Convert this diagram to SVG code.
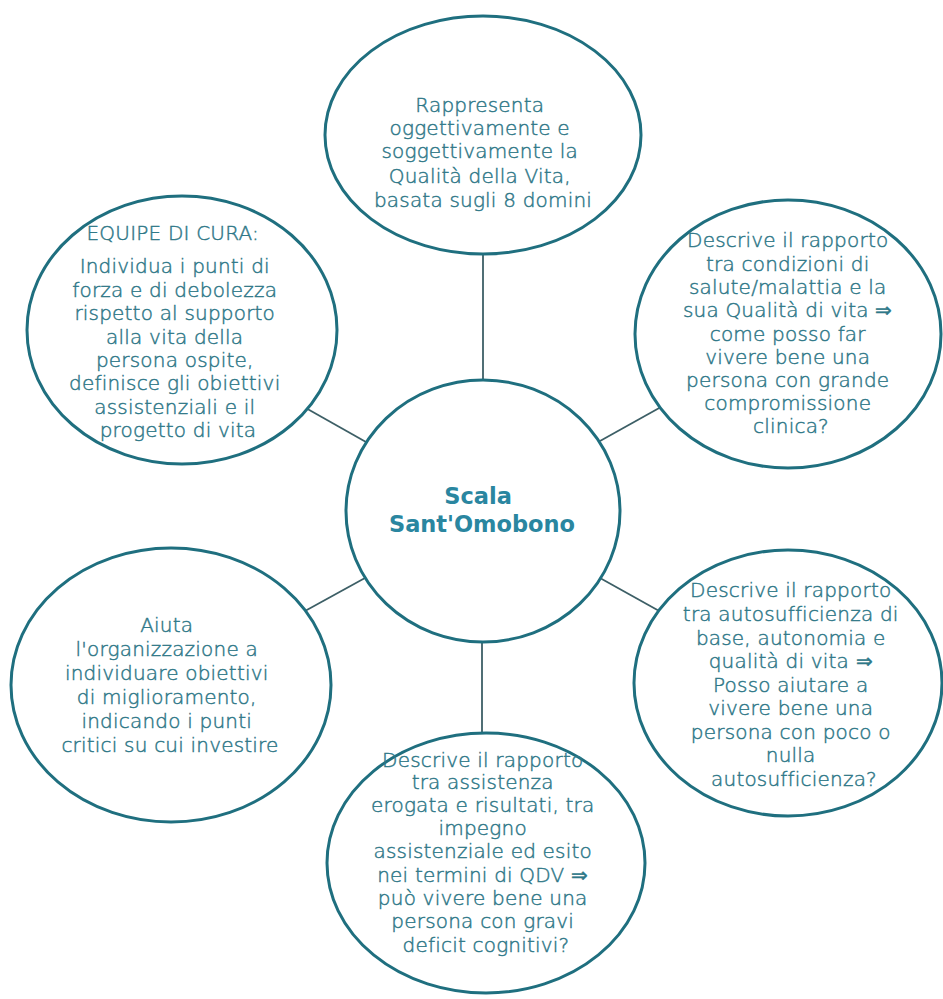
<svg xmlns="http://www.w3.org/2000/svg" width="943" height="999" viewBox="0 0 943 999">
  <style>
    .bubble { fill: #ffffff; stroke: #1f6f7f; stroke-width: 3; }
    .link { stroke: #3d5f66; stroke-width: 1.8; fill: none; }
    .txt { font-family: "DejaVu Sans", "Liberation Sans", sans-serif; font-size: 20px; font-weight: 300; letter-spacing: 0.2px; fill: #2f7888; stroke: #2f7888; stroke-width: 0.45px; text-anchor: middle; }
    .title { font-family: "DejaVu Sans", "Liberation Sans", sans-serif; font-size: 22.5px; font-weight: bold; fill: #2a86a0; text-anchor: middle; }
  </style>
  <rect width="943" height="999" fill="#ffffff"/>

  <!-- spokes between the hub and each satellite -->
  <g id="connectors">
    <line class="link" x1="483" y1="250" x2="483" y2="384"/>
    <line class="link" x1="304" y1="407" x2="366" y2="442"/>
    <line class="link" x1="600" y1="441" x2="661" y2="407"/>
    <line class="link" x1="305" y1="611" x2="365" y2="578"/>
    <line class="link" x1="600" y1="578" x2="661" y2="612"/>
    <line class="link" x1="482" y1="640" x2="482" y2="736"/>
  </g>

  <g id="node-top">
    <ellipse class="bubble" cx="483" cy="135" rx="158" ry="119"/>
    <text class="txt">
      <tspan x="483" y="112">Rappresenta</tspan>
      <tspan x="483" y="135">oggettivamente e</tspan>
      <tspan x="483" y="158">soggettivamente la</tspan>
      <tspan x="483" y="183">Qualità della Vita,</tspan>
      <tspan x="483" y="207">basata sugli 8 domini</tspan>
    </text>
  </g>

  <g id="node-top-right">
    <ellipse class="bubble" cx="788" cy="334" rx="153" ry="134"/>
    <text class="txt">
      <tspan x="791" y="247">Descrive il rapporto</tspan>
      <tspan x="791" y="271">tra condizioni di</tspan>
      <tspan x="791" y="294">salute/malattia e la</tspan>
      <tspan x="791" y="317">sua Qualità di vita ⇒</tspan>
      <tspan x="791" y="341">come posso far</tspan>
      <tspan x="791" y="364">vivere bene una</tspan>
      <tspan x="791" y="387">persona con grande</tspan>
      <tspan x="791" y="410">compromissione</tspan>
      <tspan x="791" y="433">clinica?</tspan>
    </text>
  </g>

  <g id="node-top-left">
    <ellipse class="bubble" cx="182" cy="330" rx="155" ry="134"/>
    <text class="txt">
      <tspan x="176" y="240">EQUIPE DI CURA:</tspan>
      <tspan x="178" y="273">Individua i punti di</tspan>
      <tspan x="178" y="297">forza e di debolezza</tspan>
      <tspan x="178" y="320">rispetto al supporto</tspan>
      <tspan x="178" y="344">alla vita della</tspan>
      <tspan x="178" y="367">persona ospite,</tspan>
      <tspan x="178" y="390">definisce gli obiettivi</tspan>
      <tspan x="178" y="414">assistenziali e il</tspan>
      <tspan x="178" y="437">progetto di vita</tspan>
    </text>
  </g>

  <g id="node-bottom-left">
    <ellipse class="bubble" cx="171" cy="685" rx="160" ry="137"/>
    <text class="txt">
      <tspan x="170" y="632">Aiuta</tspan>
      <tspan x="170" y="656">l'organizzazione a</tspan>
      <tspan x="170" y="680">individuare obiettivi</tspan>
      <tspan x="170" y="704">di miglioramento,</tspan>
      <tspan x="170" y="728">indicando i punti</tspan>
      <tspan x="170" y="752">critici su cui investire</tspan>
    </text>
  </g>

  <g id="node-bottom-right">
    <ellipse class="bubble" cx="788" cy="683" rx="154" ry="133"/>
    <text class="txt">
      <tspan x="794" y="597">Descrive il rapporto</tspan>
      <tspan x="794" y="621">tra autosufficienza di</tspan>
      <tspan x="794" y="645">base, autonomia e</tspan>
      <tspan x="794" y="668">qualità di vita ⇒</tspan>
      <tspan x="794" y="692">Posso aiutare a</tspan>
      <tspan x="794" y="715">vivere bene una</tspan>
      <tspan x="794" y="739">persona con poco o</tspan>
      <tspan x="794" y="762">nulla</tspan>
      <tspan x="794" y="786">autosufficienza?</tspan>
    </text>
  </g>

  <g id="node-bottom">
    <ellipse class="bubble" cx="486" cy="863" rx="159" ry="130"/>
    <text class="txt">
      <tspan x="486" y="767">Descrive il rapporto</tspan>
      <tspan x="486" y="789">tra assistenza</tspan>
      <tspan x="486" y="812">erogata e risultati, tra</tspan>
      <tspan x="486" y="835">impegno</tspan>
      <tspan x="486" y="858">assistenziale ed esito</tspan>
      <tspan x="486" y="882">nei termini di QDV ⇒</tspan>
      <tspan x="486" y="905">può vivere bene una</tspan>
      <tspan x="486" y="928">persona con gravi</tspan>
      <tspan x="486" y="952">deficit cognitivi?</tspan>
    </text>
  </g>

  <g id="node-center">
    <ellipse class="bubble" cx="483" cy="511" rx="137" ry="131"/>
    <text class="title">
      <tspan x="482" y="504">Scala</tspan>
      <tspan x="482" y="532">Sant'Omobono</tspan>
    </text>
  </g>
</svg>
